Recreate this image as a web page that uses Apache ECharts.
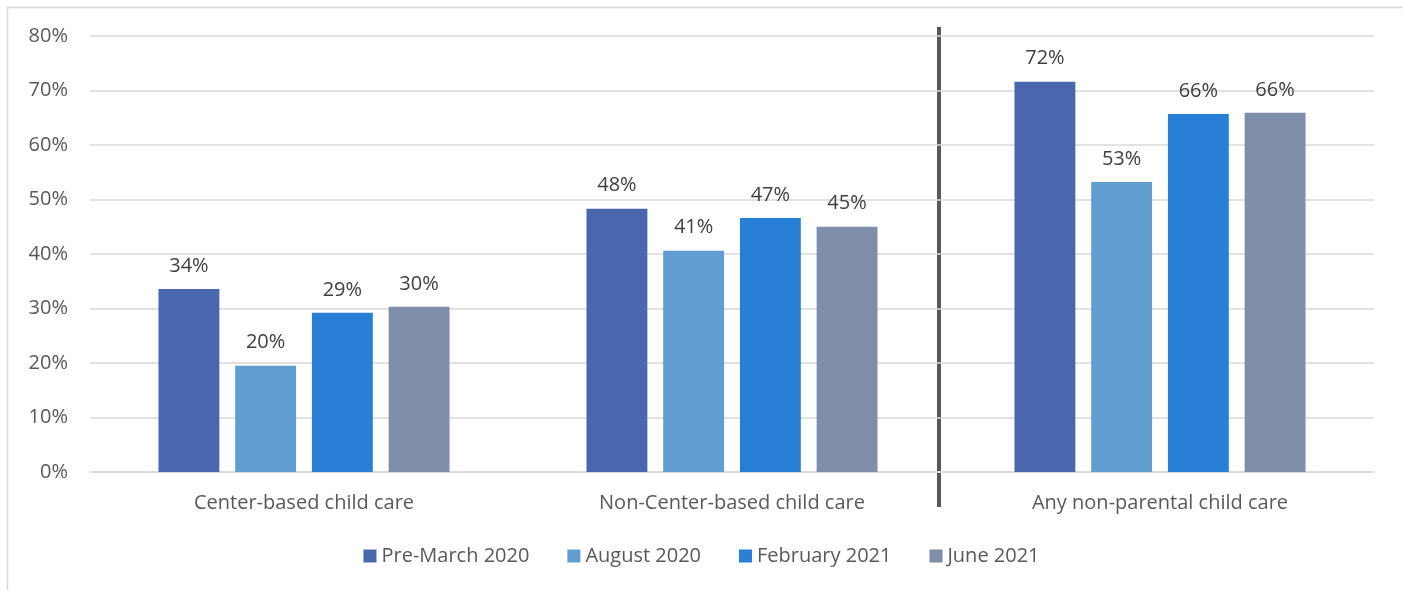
<!DOCTYPE html>
<html>
<head>
<meta charset="utf-8">
<script src="https://cdn.jsdelivr.net/npm/echarts@6/dist/echarts.min.js"></script>
<style>
  html, body { margin: 0; padding: 0; background: #fff; }
  #chart { width: 1403px; height: 590px; }
</style>
</head>
<body>
<div id="chart"></div>
<script>
const categories = ['Center-based child care', 'Non-Center-based child care', 'Any non-parental child care'];
const seriesNames = ['Pre-March 2020', 'August 2020', 'February 2021', 'June 2021'];
const preMarch2020 = [33.6, 48.3, 71.6];
const august2020 = [19.5, 40.6, 53.2];
const february2021 = [29.2, 46.6, 65.7];
const june2021 = [30.3, 45.0, 65.9];
const yTicks = [0, 10, 20, 30, 40, 50, 60, 70, 80];

const colors = ['#4a66ac', '#629dd1', '#297fd5', '#7f8fa9'];
const font = '"Open Sans", sans-serif';
const textColor = '#595959';

const chart = echarts.init(document.getElementById('chart'), null, { renderer: 'canvas' });

const makeSeries = (name, data, i) => ({
  name: name,
  type: 'bar',
  data: data,
  barGap: '26%',
  barCategoryGap: '32%',
  itemStyle: { color: colors[i] },
  label: {
    show: true,
    position: 'top',
    distance: 13,
    color: '#404040',
    fontFamily: font,
    fontSize: 20,
    formatter: p => Math.round(p.value) + '%'
  }
});

chart.setOption({
  animation: false,
  color: colors,
  grid: { left: 90, right: 29, top: 36, bottom: 118 },
  legend: {
    bottom: 19,
    left: 'center',
    itemWidth: 13,
    itemHeight: 13,
    itemGap: 38,
    icon: 'rect',
    textStyle: { color: textColor, fontFamily: font, fontSize: 20 },
    data: seriesNames
  },
  xAxis: {
    type: 'category',
    data: categories,
    axisLine: { lineStyle: { color: '#d9d9d9', width: 1.5 } },
    axisTick: { show: false },
    axisLabel: { color: textColor, fontFamily: font, fontSize: 20, margin: 21 }
  },
  yAxis: {
    type: 'value',
    min: yTicks[0],
    max: yTicks[yTicks.length - 1],
    interval: 10,
    axisLine: { show: false },
    axisTick: { show: false },
    splitLine: { lineStyle: { color: '#d9d9d9', width: 1.5 } },
    axisLabel: { color: textColor, fontFamily: font, fontSize: 20, margin: 22, formatter: '{value}%' }
  },
  graphic: [
    {
      type: 'rect',
      shape: { x: 7.5, y: 7.5, width: 1410, height: 610 },
      style: { fill: 'none', stroke: '#d9d9d9', lineWidth: 1.5 },
      silent: true
    },
    {
      type: 'line',
      shape: { x1: 939, y1: 27, x2: 939, y2: 507 },
      style: { stroke: '#595959', lineWidth: 4 },
      silent: true
    }
  ],
  series: [
    makeSeries(seriesNames[0], preMarch2020, 0),
    makeSeries(seriesNames[1], august2020, 1),
    makeSeries(seriesNames[2], february2021, 2),
    makeSeries(seriesNames[3], june2021, 3)
  ]
});
</script>
</body>
</html>
